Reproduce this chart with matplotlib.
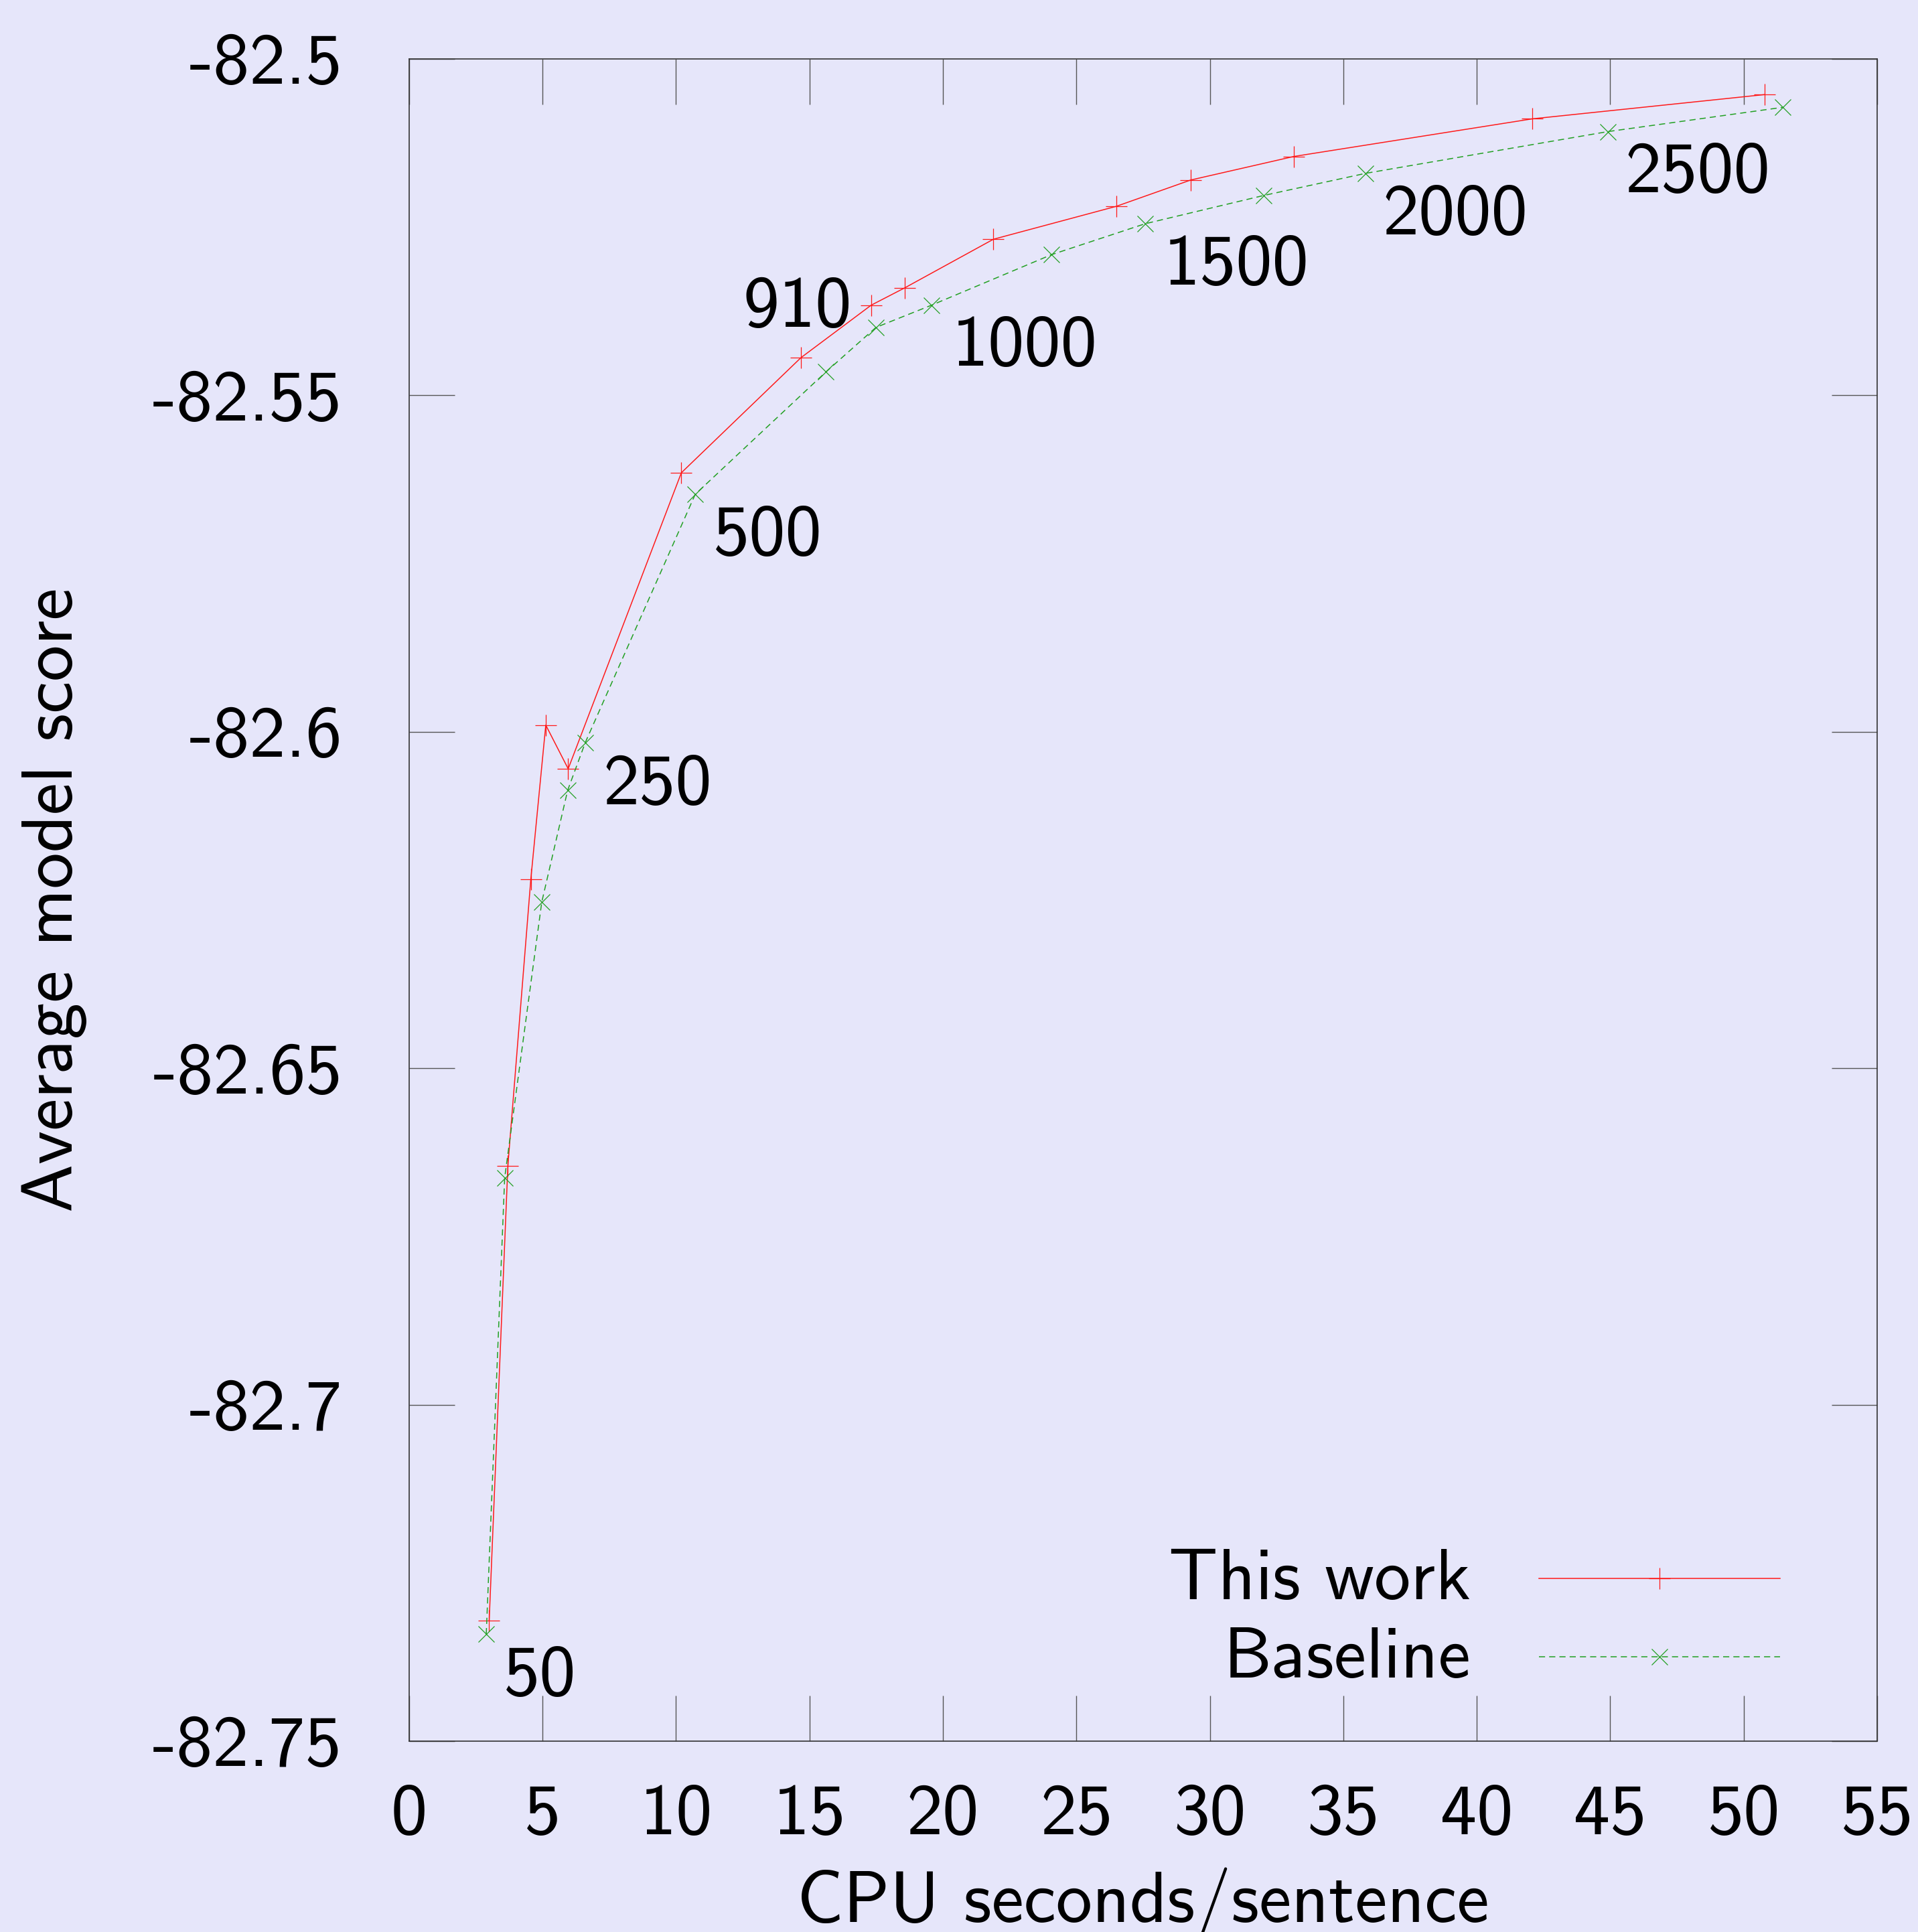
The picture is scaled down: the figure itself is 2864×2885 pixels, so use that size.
import numpy as np
import matplotlib
matplotlib.use('Agg')
import matplotlib.pyplot as plt

# CPU seconds/sentence vs average model score
this_work_x = [3.00, 3.70, 4.56, 5.12, 5.96, 10.20, 14.68, 17.31, 18.58,
               21.89, 26.50, 29.28, 33.14, 42.09, 50.78]
this_work_y = [-82.7321, -82.6645, -82.6219, -82.5990, -82.6055, -82.5615,
               -82.5444, -82.5366, -82.5340, -82.5268, -82.5219, -82.5180,
               -82.5145, -82.5089, -82.5053]
baseline_x = [2.89, 3.58, 4.97, 5.94, 6.60, 10.72, 15.62, 17.49, 19.57,
              24.06, 27.57, 32.01, 35.84, 44.91, 51.45]
baseline_y = [-82.7341, -82.6663, -82.6253, -82.6087, -82.6016, -82.5647,
              -82.5465, -82.5399, -82.5366, -82.5291, -82.5245, -82.5203,
              -82.5170, -82.5108, -82.5072]

# beam size annotations
beam_labels = ['50', '250', '500', '910', '1000', '1500', '2000', '2500']
beam_label_pos = [(4.91, -82.7432), (9.30, -82.6108), (13.44, -82.5737),
                  (14.55, -82.5398), (23.05, -82.5456), (31.0, -82.5335),
                  (39.19, -82.5261), (48.28, -82.5198)]

x_ticks = list(range(0, 60, 5))
y_ticks = [-82.75, -82.7, -82.65, -82.6, -82.55, -82.5]
y_ticklabels = ['-82.75', '-82.7', '-82.65', '-82.6', '-82.55', '-82.5']

BG = '#e6e6fa'
RED = '#ff1a1a'
GREEN = '#22a022'
FS = 78

plt.rcParams['font.family'] = ['cmss10', 'DejaVu Sans']
plt.rcParams['axes.unicode_minus'] = False

fig = plt.figure(figsize=(28.64, 28.85), dpi=100, facecolor=BG)
ax = fig.add_axes([0.2133, 0.0988, 0.7654, 0.8707])
ax.set_facecolor(BG)

ax.plot(this_work_x, this_work_y, color=RED, lw=1.1, marker='+',
        markersize=23, markeredgewidth=0.9)
ax.plot(baseline_x, baseline_y, color=GREEN, lw=1.1, dashes=(6, 4),
        marker='x', markersize=17, markeredgewidth=0.9)

for lab, (tx, ty) in zip(beam_labels, beam_label_pos):
    ax.text(tx, ty, lab, fontsize=FS, ha='center', va='baseline')

ax.set_xlim(0, 55)
ax.set_ylim(-82.75, -82.5)
ax.set_xticks(x_ticks)
ax.set_xticklabels([str(t) for t in x_ticks])
ax.set_yticks(y_ticks)
ax.set_yticklabels(y_ticklabels)

ax.tick_params(axis='both', direction='in', length=49, width=1.0,
               color='#555555', labelsize=FS, top=True, right=True)
ax.tick_params(axis='x', pad=46)
ax.tick_params(axis='y', pad=72)
for sp in ax.spines.values():
    sp.set_linewidth(1.2)
    sp.set_color('#333333')

ax.set_xlabel('CPU seconds/sentence', fontsize=FS, va='baseline')
ax.xaxis.set_label_coords(0.5, -0.1075)
ax.set_ylabel('Average model score', fontsize=FS, va='center', ha='center')
ax.yaxis.set_label_coords(-0.2418, 0.5)

# key, drawn by hand so the labels sit right-aligned as in the original
ax.plot([0.7696, 0.8517, 0.9339], [0.0967] * 3, transform=ax.transAxes,
        color=RED, lw=1.1, marker='+', markersize=23, markeredgewidth=0.9,
        markevery=[1])
ax.plot([0.7696, 0.8517, 0.9339], [0.0502] * 3, transform=ax.transAxes,
        color=GREEN, lw=1.1, dashes=(6, 4), marker='x', markersize=17,
        markeredgewidth=0.9, markevery=[1])
ax.text(0.7231, 0.0842, 'This work', transform=ax.transAxes, fontsize=FS,
        ha='right', va='baseline')
ax.text(0.7231, 0.0378, 'Baseline', transform=ax.transAxes, fontsize=FS,
        ha='right', va='baseline')

fig.savefig('out.png', dpi=100, facecolor=BG)
